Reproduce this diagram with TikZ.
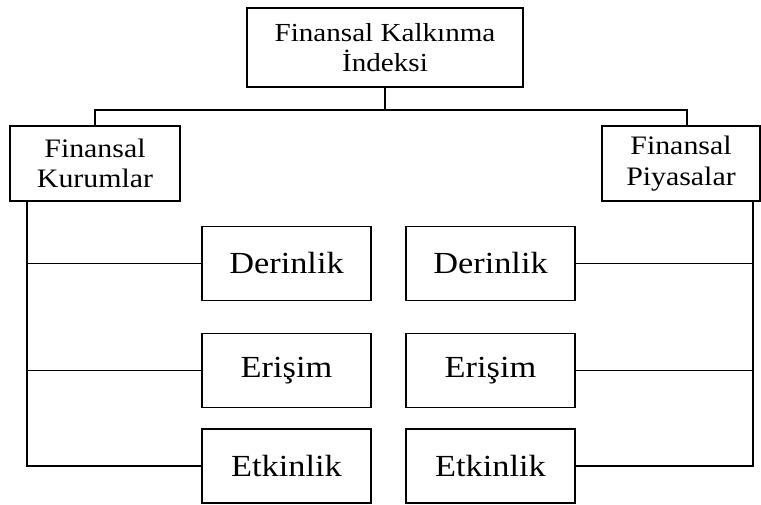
\documentclass[tikz,border=0pt]{standalone}
\usepackage{fontspec}
\setmainfont{Liberation Serif}[FakeStretch=1.12]
\begin{document}
\begin{tikzpicture}[x=0.75pt,y=-0.75pt,
  box/.style={draw=black,line width=1.4pt,rectangle,inner sep=0pt,align=center},
  topbox/.style={box,minimum width=276*0.75pt,minimum height=79*0.75pt,font=\fontsize{19.5}{22}\selectfont},
  groupbox/.style={box,minimum width=158*0.75pt,minimum height=75*0.75pt,font=\fontsize{20}{23}\selectfont},
  leafbox/.style={box,minimum width=169*0.75pt,minimum height=74*0.75pt,font=\fontsize{23}{26}\selectfont},
  link/.style={draw=black,line width=1.2pt}]
\useasboundingbox (0,0) rectangle (761,504);

% root
\node[topbox] (root) at (385,47.5) {Finansal Kalkınma\\İndeksi};

% the two groups
\node[groupbox,minimum width=170*0.75pt] (fk) at (95,163.5) {Finansal\\Kurumlar};
\node[groupbox] (fp) at (681,163.5) {Finansal\\Piyasalar};

% dimension boxes
\node[leafbox] (kd) at (286.5,263.5) {Derinlik};
\node[leafbox] (ke) at (286.5,370.5) {Erişim};
\node[leafbox] (kt) at (286.5,466)   {Etkinlik};
\node[leafbox] (pd) at (490.5,263.5) {Derinlik};
\node[leafbox] (pe) at (490.5,370.5) {Erişim};
\node[leafbox] (pt) at (490.5,466)   {Etkinlik};

% spines
\coordinate (bar) at (385,110);
\coordinate (rdrop) at (687,110);
\coordinate (lv) at (27,201);
\coordinate (rv) at (753,201);

% root to groups
\draw[link] (root.south) -- (bar);
\draw[link] (fk.north) |- (rdrop) -- (rdrop |- fp.north);

% left group spine and branches
\draw[link] (lv) -- (lv |- kt.west) -- (kt.west);
\draw[link] (lv |- kd.west) -- (kd.west);
\draw[link] (lv |- ke.west) -- (ke.west);

% right group spine and branches
\draw[link] (rv) -- (rv |- pt.east) -- (pt.east);
\draw[link] (rv |- pd.east) -- (pd.east);
\draw[link] (rv |- pe.east) -- (pe.east);
\end{tikzpicture}
\end{document}
